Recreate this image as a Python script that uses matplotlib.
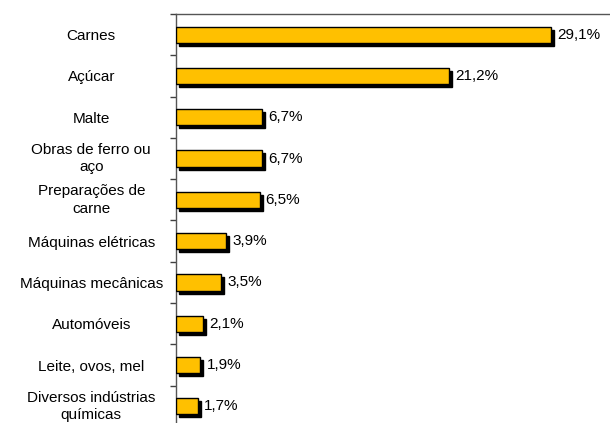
import matplotlib
matplotlib.use("Agg")
import matplotlib.pyplot as plt
import matplotlib.transforms as mtransforms
import numpy as np

categories = ["Carnes", "Açúcar", "Malte", "Obras de ferro ou\naço", "Preparações de\ncarne",
              "Máquinas elétricas", "Máquinas mecânicas", "Automóveis", "Leite, ovos, mel",
              "Diversos indústrias\nquímicas"]
values = [29.1, 21.2, 6.7, 6.7, 6.5, 3.9, 3.5, 2.1, 1.9, 1.7]
value_labels = ["29,1%", "21,2%", "6,7%", "6,7%", "6,5%", "3,9%", "3,5%", "2,1%", "1,9%", "1,7%"]

plt.rcParams['font.family'] = ['Liberation Sans', 'DejaVu Sans']

fig = plt.figure(figsize=(6.10, 4.23), dpi=100)
ax = fig.add_axes([176/610, -4/423, 1 - 176/610, (427-14)/423])

y = np.arange(len(categories))
h = 0.39
shadow = ax.transData + mtransforms.ScaledTranslation(3/100, -3/100, fig.dpi_scale_trans)
ax.barh(y, values, height=h, color='black', edgecolor='black', linewidth=1, transform=shadow, zorder=2)
ax.barh(y, values, height=h, color='#FFC000', edgecolor='black', linewidth=1, zorder=3)

lab_off = mtransforms.ScaledTranslation(6/100, 0, fig.dpi_scale_trans)
for yi, v, s in zip(y, values, value_labels):
    ax.text(v, yi, s, transform=ax.transData + lab_off, va='center', ha='left', fontsize=11, color='black')

ax.set_xlim(0, 33.7)
ax.set_ylim(len(categories) - 0.5, -0.5)
ax.set_yticks(y)
ax.set_yticklabels(categories, fontsize=11, ha='center', linespacing=1.3)
ax.tick_params(axis='y', which='major', length=0, pad=61)
up = mtransforms.ScaledTranslation(0, 3/100, fig.dpi_scale_trans)
for lab in ax.get_yticklabels():
    if '\n' in lab.get_text():
        lab.set_transform(lab.get_transform() + up)
ax.set_yticks(np.arange(len(categories) + 1) - 0.5, minor=True)
ax.tick_params(axis='y', which='minor', length=4, width=1, color='#404040', direction='out')
ax.set_xticks([])
for sp in ['right', 'bottom']:
    ax.spines[sp].set_visible(False)
for sp in ['left', 'top']:
    ax.spines[sp].set_color('#555555')
    ax.spines[sp].set_linewidth(1)

fig.savefig("out.png", dpi=100)
